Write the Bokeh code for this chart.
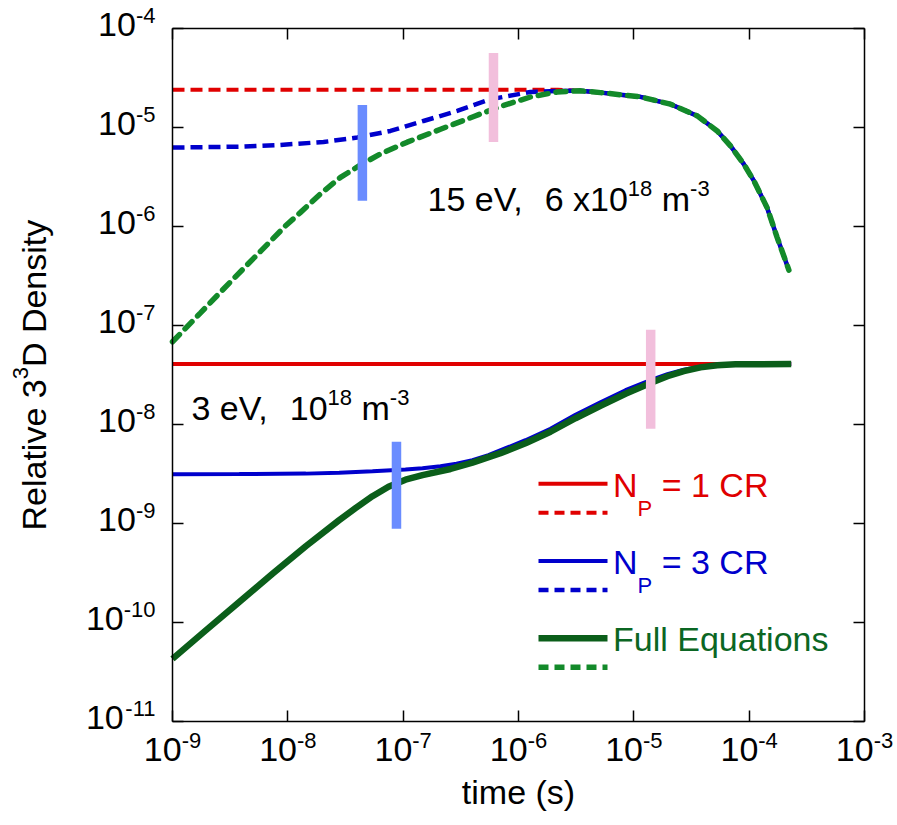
import math
from bokeh.plotting import figure
from bokeh.models import FixedTicker, CustomJSTickFormatter, LogAxis, Range1d
from bokeh.core.properties import value
from bokeh.embed import file_html
from bokeh.resources import INLINE

# ---------------- data ----------------
x_tick_exps = [-9, -8, -7, -6, -5, -4, -3]
y_tick_exps = [-11, -10, -9, -8, -7, -6, -5, -4]

# 3 eV, 1e18 m^-3 (solid)
blue_3ev_t = [1.00e-9, 3.79e-9, 1.431e-8, 2.79e-8, 5.42e-8, 1.047e-7, 1.471e-7, 2.107e-7,
              2.90e-7, 3.99e-7, 5.49e-7, 7.56e-7, 1.150e-6, 1.894e-6, 3.12e-6, 5.14e-6,
              8.47e-6, 1.395e-5, 1.957e-5, 2.713e-5, 3.784e-5, 5.28e-5, 7.61e-5, 2.315e-4]
blue_3ev = [3.147e-9, 3.163e-9, 3.19e-9, 3.26e-9, 3.38e-9, 3.52e-9, 3.62e-9, 3.791e-9,
            4.019e-9, 4.358e-9, 4.896e-9, 5.693e-9, 6.938e-9, 9.07e-9, 1.255e-8, 1.679e-8,
            2.22e-8, 2.81e-8, 3.217e-8, 3.571e-8, 3.830e-8, 3.994e-8, 4.06e-8, 4.08e-8]
green_3ev_t = [1.00e-9, 1.943e-9, 3.79e-9, 7.36e-9, 1.431e-8, 2.79e-8, 3.86e-8, 5.42e-8,
               7.46e-8, 1.047e-7, 1.471e-7, 2.573e-7, 3.99e-7, 6.98e-7, 1.150e-6, 1.894e-6,
               3.12e-6, 5.14e-6, 8.47e-6, 1.395e-5, 1.957e-5, 2.713e-5, 3.784e-5, 5.28e-5,
               7.61e-5, 2.315e-4]
green_3ev = [4.29e-11, 8.33e-11, 1.614e-10, 3.10e-10, 5.89e-10, 1.081e-9, 1.429e-9, 1.888e-9,
             2.354e-9, 2.771e-9, 3.076e-9, 3.553e-9, 4.113e-9, 5.13e-9, 6.47e-9, 8.45e-9,
             1.157e-8, 1.547e-8, 2.045e-8, 2.629e-8, 3.072e-8, 3.465e-8, 3.777e-8, 3.966e-8,
             4.05e-8, 4.08e-8]
red_3ev_t = [1.0e-9, 2.315e-4]
red_3ev = [4.08e-8, 4.08e-8]

# 15 eV, 6e18 m^-3 (dashed)
t_15_tail = [3.4e-6, 5.14e-6, 1.14e-5, 2.08e-5, 3.55e-5, 5.28e-5, 6.89e-5, 8.99e-5,
             1.10e-4, 1.43e-4, 1.75e-4, 2.21e-4]
y_15_tail = [2.35e-5, 2.25e-5, 2.04e-5, 1.72e-5, 1.31e-5, 9.23e-6, 6.52e-6, 4.26e-6,
             2.89e-6, 1.55e-6, 7.73e-7, 3.63e-7]
red_15_t = [1.0e-9, 2.2e-6]
red_15 = [2.41e-5, 2.41e-5]
blue_15_t = [1.0e-9, 3.9e-9, 8.6e-9, 2.04e-8, 4.0e-8, 7.76e-8, 1.5e-7, 2.94e-7, 5.71e-7,
             1.27e-6, 2.17e-6]
blue_15 = [6.27e-6, 6.41e-6, 6.67e-6, 7.14e-6, 7.91e-6, 9.23e-6, 1.164e-5, 1.469e-5, 1.928e-5,
           2.286e-5, 2.339e-5]
green_15_t = [1.00e-9, 1.75e-9, 3.18e-9, 5.79e-9, 9.54e-9, 1.288e-8, 1.92e-8, 2.86e-8, 4.27e-8,
              6.36e-8, 1.084e-7, 2.107e-7, 4.096e-7, 6.98e-7, 1.271e-6, 2.166e-6]
green_15 = [6.85e-8, 1.343e-7, 2.76e-7, 5.61e-7, 1.015e-6, 1.389e-6, 2.136e-6, 3.133e-6, 4.19e-6,
            5.41e-6, 7.11e-6, 9.60e-6, 1.293e-5, 1.632e-5, 2.035e-5, 2.286e-5]

# transition markers
bar_t = [4.43e-8, 6.07e-7, 8.75e-8, 1.40e-5]
bar_lo = [1.82e-6, 7.14e-6, 8.87e-10, 9.06e-9]
bar_hi = [1.69e-5, 5.66e-5, 6.70e-9, 9.06e-8]
bar_kind = ["blue", "pink", "blue", "pink"]

legend_labels = [("N", "P", " = 1 CR"), ("N", "P", " = 3 CR"), ("Full Equations", None, None)]
x_title = "time (s)"
y_title = ("Relative 3", "3", "D Density")

# ---------------- styles / layout ----------------
RED = "#e00000"
BLUE = "#0000cc"
GREEN_S = "#0b5e1a"
GREEN_D = "#138a2a"
GREEN_T = "#0b6623"
BAR_COL = {"blue": "#6a8cff", "pink": "#f2bfdc"}
FONT = "Liberation Sans"
MAIN = 34
SUP = 22
BASE_FIX = 0.38   # empirical baseline correction (fraction of font size)

W, H = 894, 821                      # canvas
BL, BT, BW, BH = 172, 28, 692, 693   # plot box in canvas pixels
XMIN, XMAX = -9, -3
YMIN, YMAX = -11, -4
XPD = BW / (XMAX - XMIN)             # px per decade
YPD = BH / (YMAX - YMIN)


def X(px):
    return 10 ** (XMIN + (px - BL) / XPD)


def Y(py):
    return 10 ** (YMIN + (BT + BH - py) / YPD)


AW = {'1': .556, '5': .556, ' ': .278, 'e': .556, 'V': .667, ',': .278, '6': .556, 'x': .5,
      '0': .556, '8': .556, 'm': .833, '-': .333, '3': .556, 'N': .722, 'P': .667, '=': .584,
      'C': .722, 'R': .722, 'F': .611, 'u': .556, 'l': .222, 'E': .667, 'q': .556, 'a': .556,
      't': .278, 'i': .222, 'o': .556, 'n': .556, 's': .5, 'v': .5, 'D': .722, 'y': .5,
      '2': .556, '4': .556, '7': .556, '9': .556, '(': .333, ')': .333}


def tw(s, size):
    return sum(AW.get(c, .556) for c in s) * size


p = figure(width=W, height=H, x_axis_type="log", y_axis_type="log",
           x_range=Range1d(X(0), X(W)), y_range=Range1d(Y(H), Y(0)),
           x_axis_location=None, y_axis_location=None,
           output_backend="svg", toolbar_location=None,
           min_border_left=0, min_border_right=0, min_border_top=0, min_border_bottom=0)
p.grid.visible = False
p.background_fill_color = "white"
p.border_fill_color = "white"
p.outline_line_color = None


def txt(px, py, s, size, color="black", align="left", angle=0.0):
    if angle == 0.0:
        py -= BASE_FIX * size
    else:
        px -= BASE_FIX * size
    p.text(x=[X(px)], y=[Y(py)], text=[s], text_font=value(FONT),
           text_font_size=value(f"{size}px"), text_color=color,
           text_baseline="alphabetic", text_align=align, angle=angle)


def rich(px, py, parts, color):
    cur = px
    for s, size, dy in parts:
        lead = len(s) - len(s.lstrip(" "))
        cur += tw(" " * lead, size)
        core = s.strip(" ")
        txt(cur, py - dy, core, size, color)
        cur += tw(core, size)


# ---- 15 eV dashed curves
p.line(red_15_t + t_15_tail, red_15 + y_15_tail, line_color=RED, line_width=4, line_dash="12 6")
p.line(blue_15_t + t_15_tail, blue_15 + y_15_tail, line_color=BLUE, line_width=4.5, line_dash="12 6")
p.line(green_15_t + t_15_tail, green_15 + y_15_tail, line_color=GREEN_D, line_width=5.5,
       line_dash="10 8", line_cap="round")

# ---- 3 eV solid curves
p.line(red_3ev_t, red_3ev, line_color=RED, line_width=4)
p.line(blue_3ev_t, blue_3ev, line_color=BLUE, line_width=4)
p.line(green_3ev_t, green_3ev, line_color=GREEN_S, line_width=6.5)

# ---- transition bars
p.segment(x0=bar_t, y0=bar_lo, x1=bar_t, y1=bar_hi,
          line_color=[BAR_COL[k] for k in bar_kind], line_width=9.5)

# ---- in-plot annotations
rich(427, 211.7, [("15 eV,", MAIN, 0), ("  6 x10", MAIN, 0), ("18", SUP, 15.5),
                  (" m", MAIN, 0), ("-3", SUP, 15.5)], "black")
rich(191, 420.7, [("3 eV,", MAIN, 0), ("  10", MAIN, 0), ("18", SUP, 15.5),
                  (" m", MAIN, 0), ("-3", SUP, 15.5)], "black")

# ---- legend
leg_cols = [(RED, RED, RED, 4, 4), (BLUE, BLUE, BLUE, 4, 4.5), (GREEN_S, GREEN_D, GREEN_T, 6.5, 5.5)]
for i, (labl, (cs, cd, ct, ws, wd)) in enumerate(zip(legend_labels, leg_cols)):
    ys = 483.3 + i * 77.2
    p.line([X(538), X(607)], [Y(ys), Y(ys)], line_color=cs, line_width=ws)
    p.line([X(538), X(607)], [Y(ys + 29), Y(ys + 29)], line_color=cd,
           line_width=wd, line_dash="10 6")
    yb = ys + 13.8
    if labl[1] is None:
        rich(612.5, yb, [(labl[0], MAIN, 0)], ct)
    else:
        rich(612.5, yb, [(labl[0], MAIN, 0), (labl[1], SUP, -19), (labl[2], MAIN, 0)], ct)

# ---- axes: box with inward ticks
xt = FixedTicker(ticks=[10.0 ** k for k in x_tick_exps], minor_ticks=[])
yt = FixedTicker(ticks=[10.0 ** k for k in y_tick_exps], minor_ticks=[])
xb = (10.0 ** XMIN, 10.0 ** XMAX)
yb_ = (10.0 ** YMIN, 10.0 ** YMAX)
for loc, tk, fixed, bnds in (("below", xt, 10.0 ** YMIN, xb), ("above", xt, 10.0 ** YMAX, xb),
                             ("left", yt, 10.0 ** XMIN, yb_), ("right", yt, 10.0 ** XMAX, yb_)):
    ax = LogAxis(ticker=tk, fixed_location=fixed, bounds=bnds,
                 formatter=CustomJSTickFormatter(code='return "";'))
    ax.major_tick_in = 11
    ax.major_tick_out = 0
    ax.minor_tick_in = 0
    ax.minor_tick_out = 0
    ax.axis_line_width = 1.5
    ax.axis_line_color = "black"
    ax.major_tick_line_width = 1.5
    ax.major_label_text_font_size = "0px"
    ax.major_label_standoff = 0
    p.add_layout(ax, loc)

# ---- tick labels: "10" with raised exponent
for k in x_tick_exps:
    cx = BL + (k - XMIN) * XPD
    e = str(k)
    w = tw("10", MAIN) + tw(e, SUP)
    x0 = cx - w / 2
    txt(x0, 761.7, "10", MAIN)
    txt(x0 + tw("10", MAIN), 761.7 - 13.5, e, SUP)

for k in y_tick_exps:
    cy = BT + BH - (k - YMIN) * YPD
    e = str(k)
    right = 155.0
    txt(right, cy + 8.5 - 13.5, e, SUP, align="right")
    txt(right - tw(e, SUP), cy + 8.5, "10", MAIN, align="right")

# ---- axis titles
txt(BL + BW / 2, 804, x_title, MAIN, align="center")
rot = math.pi / 2
yy = 530.0
txt(46.5, yy, y_title[0], MAIN, angle=rot)
yy -= tw(y_title[0], MAIN)
txt(46.5 - 18, yy, y_title[1], SUP, angle=rot)
yy -= tw(y_title[1], SUP)
txt(46.5, yy, y_title[2], MAIN, angle=rot)

open("out.html", "w").write(file_html(p, INLINE))
